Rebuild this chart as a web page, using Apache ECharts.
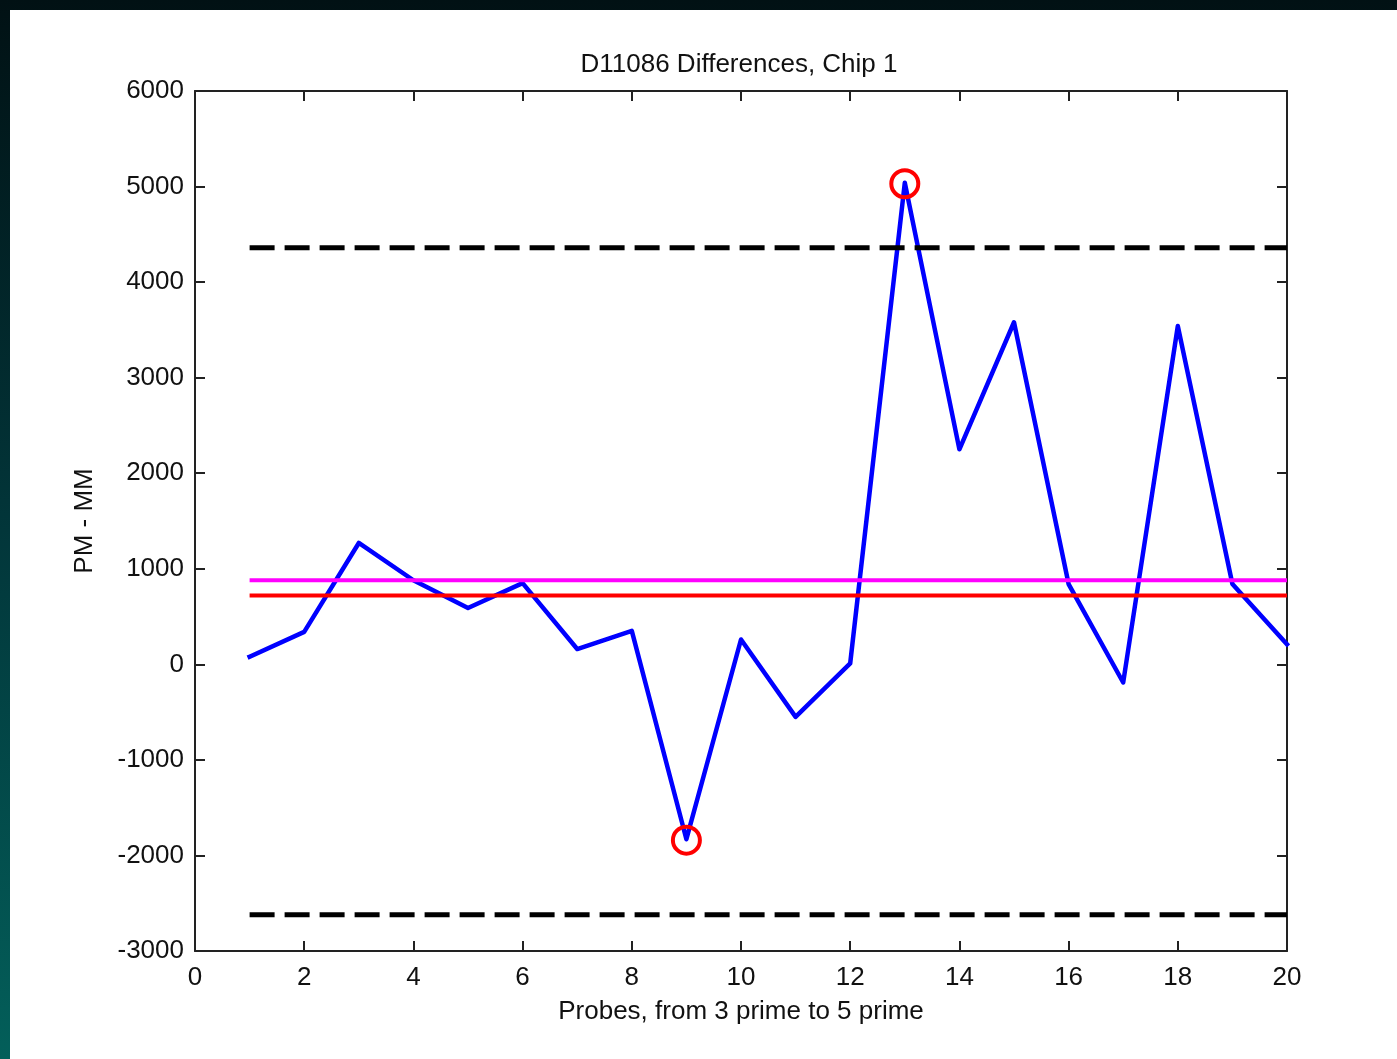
<!DOCTYPE html>
<html>
<head>
<meta charset="utf-8">
<script src="https://cdn.jsdelivr.net/npm/echarts@6/dist/echarts.min.js"></script>
<style>
  html, body { margin: 0; padding: 0; width: 1397px; height: 1059px; overflow: hidden;
    background: linear-gradient(to bottom, #011114 0%, #02363a 50%, #035f5a 100%); }
  #chart { position: absolute; left: 10px; top: 10px; width: 1387px; height: 1049px; background: #ffffff; }
</style>
</head>
<body>
<div id="chart"></div>
<script>
// ---- data ----
const titleText = 'D11086 Differences, Chip 1';
const xName = 'Probes, from 3 prime to 5 prime';
const yName = 'PM - MM';
const probes = [1, 2, 3, 4, 5, 6, 7, 8, 9, 10, 11, 12, 13, 14, 15, 16, 17, 18, 19, 20];
const diffs = [80, 340, 1270, 880, 590, 850, 160, 350, -1830, 260, -550, 10, 5040, 2250, 3580, 840, -190, 3540, 840, 210];
const meanValue = 880;     // magenta line
const medianValue = 720;   // red line
const upperLimit = 4360;   // dashed black
const lowerLimit = -2620;  // dashed black
const outlierX = [9, 13];
const outlierY = [-1840, 5030];
const xTicks = { min: 0, max: 20, interval: 2 };
const yTicks = { min: -3000, max: 6000, interval: 1000 };

const FONT = 'Liberation Sans';
const FS = 26;
const axisColor = '#222222';

const lineData = probes.map((p, i) => [p, diffs[i]]);
const xFirst = probes[0], xLast = probes[probes.length - 1];
const hLine = v => [[xFirst, v], [xLast, v]];

const baseAxis = {
  axisLine: { show: true, onZero: false, lineStyle: { color: axisColor, width: 2 } },
  axisTick: { show: true, inside: true, length: 10, lineStyle: { color: axisColor, width: 2 } },
  splitLine: { show: false },
};

const chart = echarts.init(document.getElementById('chart'));
chart.setOption({
  animation: false,
  backgroundColor: '#ffffff',
  textStyle: { fontFamily: FONT },
  title: {
    text: titleText, left: 724, top: 37, textAlign: 'center',
    textStyle: { fontFamily: FONT, fontSize: FS, fontWeight: 'normal', color: '#111' }
  },
  grid: { left: 185, right: 110, top: 81, bottom: 108, containLabel: false },
  xAxis: [
    Object.assign({}, baseAxis, {
      type: 'value', position: 'bottom', min: xTicks.min, max: xTicks.max, interval: xTicks.interval,
      name: xName, nameLocation: 'middle', nameGap: 48,
      nameTextStyle: { fontFamily: FONT, fontSize: FS, color: '#111' },
      axisLabel: { fontFamily: FONT, fontSize: FS, color: '#111', margin: 14, formatter: v => String(v) }
    }),
    Object.assign({}, baseAxis, {
      type: 'value', position: 'top', min: xTicks.min, max: xTicks.max, interval: xTicks.interval,
      axisLabel: { show: false }
    })
  ],
  yAxis: [
    Object.assign({}, baseAxis, {
      type: 'value', position: 'left', min: yTicks.min, max: yTicks.max, interval: yTicks.interval,
      name: yName, nameLocation: 'middle', nameGap: 97,
      nameTextStyle: { fontFamily: FONT, fontSize: FS, color: '#111' },
      axisLabel: { fontFamily: FONT, fontSize: FS, color: '#111', margin: 11, formatter: v => String(v) }
    }),
    Object.assign({}, baseAxis, {
      type: 'value', position: 'right', min: yTicks.min, max: yTicks.max, interval: yTicks.interval,
      axisLabel: { show: false }
    })
  ],
  series: [
    { type: 'line', data: lineData, symbol: 'none', z: 2,
      lineStyle: { color: '#0000ff', width: 4.5, join: 'round', cap: 'square' } },
    { type: 'line', data: hLine(meanValue), symbol: 'none', z: 3,
      lineStyle: { color: '#ff00ff', width: 4 } },
    { type: 'line', data: hLine(medianValue), symbol: 'none', z: 3,
      lineStyle: { color: '#ff0000', width: 4 } },
    { type: 'line', data: hLine(upperLimit), symbol: 'none', z: 3,
      lineStyle: { color: '#000000', width: 5, type: [25, 10] } },
    { type: 'line', data: hLine(lowerLimit), symbol: 'none', z: 3,
      lineStyle: { color: '#000000', width: 5, type: [25, 10] } },
    { type: 'scatter', data: outlierX.map((x, i) => [x, outlierY[i]]), z: 4,
      symbol: 'circle', symbolSize: 27,
      itemStyle: { color: 'rgba(0,0,0,0)', borderColor: '#ff0000', borderWidth: 4, opacity: 1 } }
  ]
});
</script>
</body>
</html>
